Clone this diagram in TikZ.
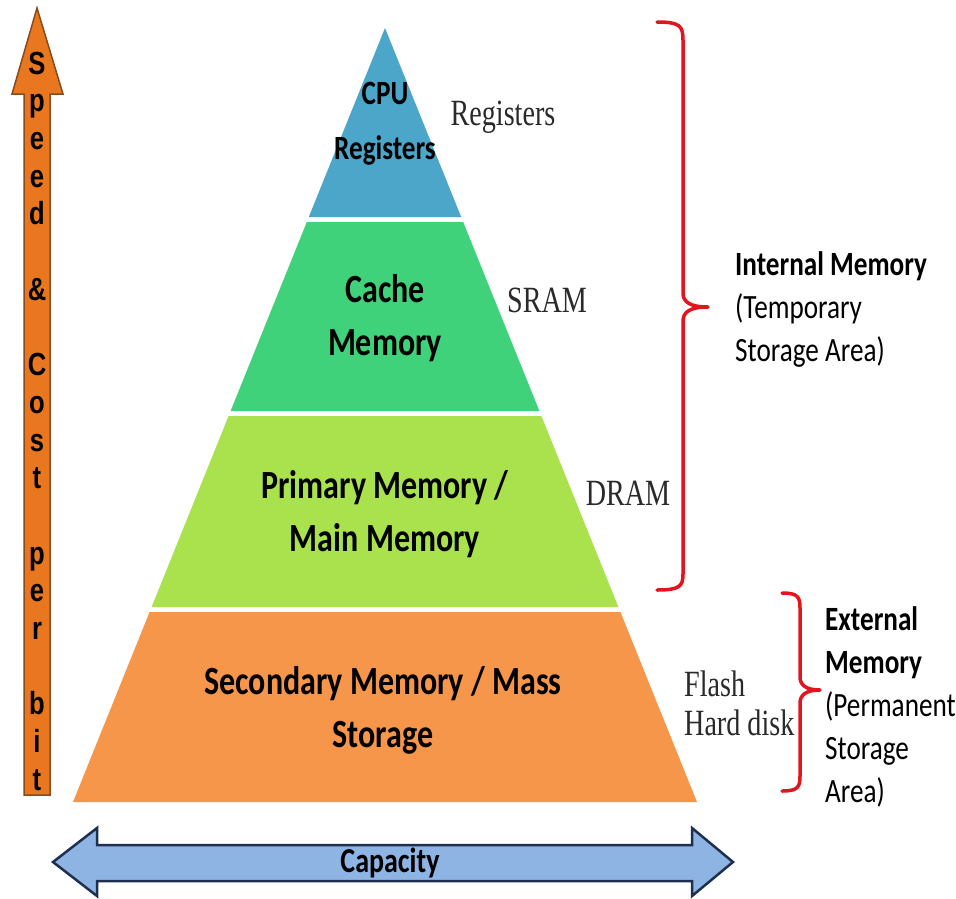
\documentclass[tikz,border=0pt]{standalone}
\usepackage{fontspec}
\setmainfont{Carlito}
\newfontfamily\tierfont[FakeStretch=0.8]{Carlito}
\newfontfamily\sidefont[FakeStretch=0.76]{Liberation Serif}
\newfontfamily\arrowfont[FakeStretch=0.8]{Liberation Sans}
\definecolor{tierA}{HTML}{4BA6C9}
\definecolor{tierB}{HTML}{40D27A}
\definecolor{tierC}{HTML}{A9E24C}
\definecolor{tierD}{HTML}{F5964A}
\definecolor{spdfill}{HTML}{E8771F}
\definecolor{spdline}{HTML}{8B4A1C}
\definecolor{capfill}{HTML}{8EB4E3}
\definecolor{capline}{HTML}{1F2F4F}
\definecolor{bracered}{HTML}{E3141E}
\definecolor{sidegray}{HTML}{2A2A2A}
\tikzset{
  tiertext/.style={align=center, inner sep=0pt, font=\tierfont\bfseries\fontsize{40}{53}\selectfont},
  sidelabel/.style={inner sep=0pt, text=sidegray, font=\sidefont\fontsize{37}{39}\selectfont},
  memtext/.style={align=left, inner sep=0pt, font=\tierfont\fontsize{34}{43}\selectfont},
  spdletter/.style={inner sep=0pt, anchor=base, font=\arrowfont\bfseries\fontsize{32}{30}\selectfont},
  bracepath/.style={draw=bracered, line width=3.5pt, line cap=round, line join=round},
}
\begin{document}
\begin{tikzpicture}[x=1pt,y=-1pt]
\useasboundingbox (0,0) rectangle (956,898);
\fill[white] (0,0) rectangle (956,898);
% pyramid tiers
\fill[tierA] (385,28) -- (461.2,217) -- (308.8,217) -- cycle;
\fill[tierB] (306.8,222) -- (463.2,222) -- (539.4,411) -- (230.6,411) -- cycle;
\fill[tierC] (228.6,416) -- (541.4,416) -- (618.4,607) -- (151.6,607) -- cycle;
\fill[tierD] (149.6,612) -- (620.4,612) -- (697,802) -- (73,802) -- cycle;
% tier texts
\node[tiertext, font=\tierfont\bfseries\fontsize{34}{55}\selectfont] (cpu) at (385,124) {CPU\\Registers};
\node[tiertext] (cache) at (385,318) {Cache\\Memory};
\node[tiertext] (main) at (385,514) {Primary Memory /\\Main Memory};
\node[tiertext] (sec) at (383,710) {Secondary Memory / Mass\\Storage};
% side labels
\node[sidelabel] (reg) at (503,117) {Registers};
\node[sidelabel] (sram) at (547,300) {SRAM};
\node[sidelabel] (dram) at (628,493) {DRAM};
\node[sidelabel, align=left, anchor=west] (flash) at (684,703) {Flash\\Hard disk};
% braces
\coordinate (ib1) at (657,22);
\coordinate (ibt) at (708,307);
\coordinate (ib2) at (657,590);
\draw[bracepath] (ib1) .. controls (680,22) and (683,26) .. (683,40) -- (683,293)
  .. controls (683,302) and (690,307) .. (ibt)
  .. controls (690,307) and (683,312) .. (683,321) -- (683,574)
  .. controls (683,586) and (680,590) .. (ib2);
\coordinate (eb1) at (782,593);
\coordinate (ebt) at (820,690);
\coordinate (eb2) at (782,791);
\draw[bracepath] (eb1) .. controls (798,593) and (800,597) .. (800,608) -- (800,677)
  .. controls (800,685) and (806,690) .. (ebt)
  .. controls (806,690) and (800,695) .. (800,703) -- (800,776)
  .. controls (800,787) and (798,791) .. (eb2);
% memory labels
\node[memtext, anchor=west] (internal) at (735,309.5) {\textbf{Internal Memory}\\(Temporary\\Storage Area)};
\node[memtext, anchor=west] (external) at (825,707) {\textbf{External}\\\textbf{Memory}\\(Permanent\\Storage\\Area)};
% speed arrow
\draw[fill=spdfill, draw=spdline, line width=1.5pt, line join=miter]
  (37,8) -- (63,94) -- (50,94) -- (50,795) -- (24,795) -- (24,94) -- (12,94) -- cycle;
\foreach \ch/\i in {S/0,p/1,e/2,e/3,d/4,\&/6,C/8,o/9,s/10,t/11,p/13,e/14,r/15,b/17,i/18,t/19}
  \node[spdletter] (sp\i) at (37,{74+37.7*\i}) {\ch};
% capacity arrow
\draw[fill=capfill, draw=capline, line width=2.5pt, line join=miter]
  (53,862) -- (97,828) -- (97,845) -- (692,845) -- (692,828) -- (733,862)
  -- (692,896) -- (692,881) -- (97,881) -- (97,896) -- cycle;
\node[inner sep=0pt, font=\tierfont\bfseries\fontsize{35}{35}\selectfont] (cap) at (390,863) {Capacity};
\end{tikzpicture}
\end{document}
